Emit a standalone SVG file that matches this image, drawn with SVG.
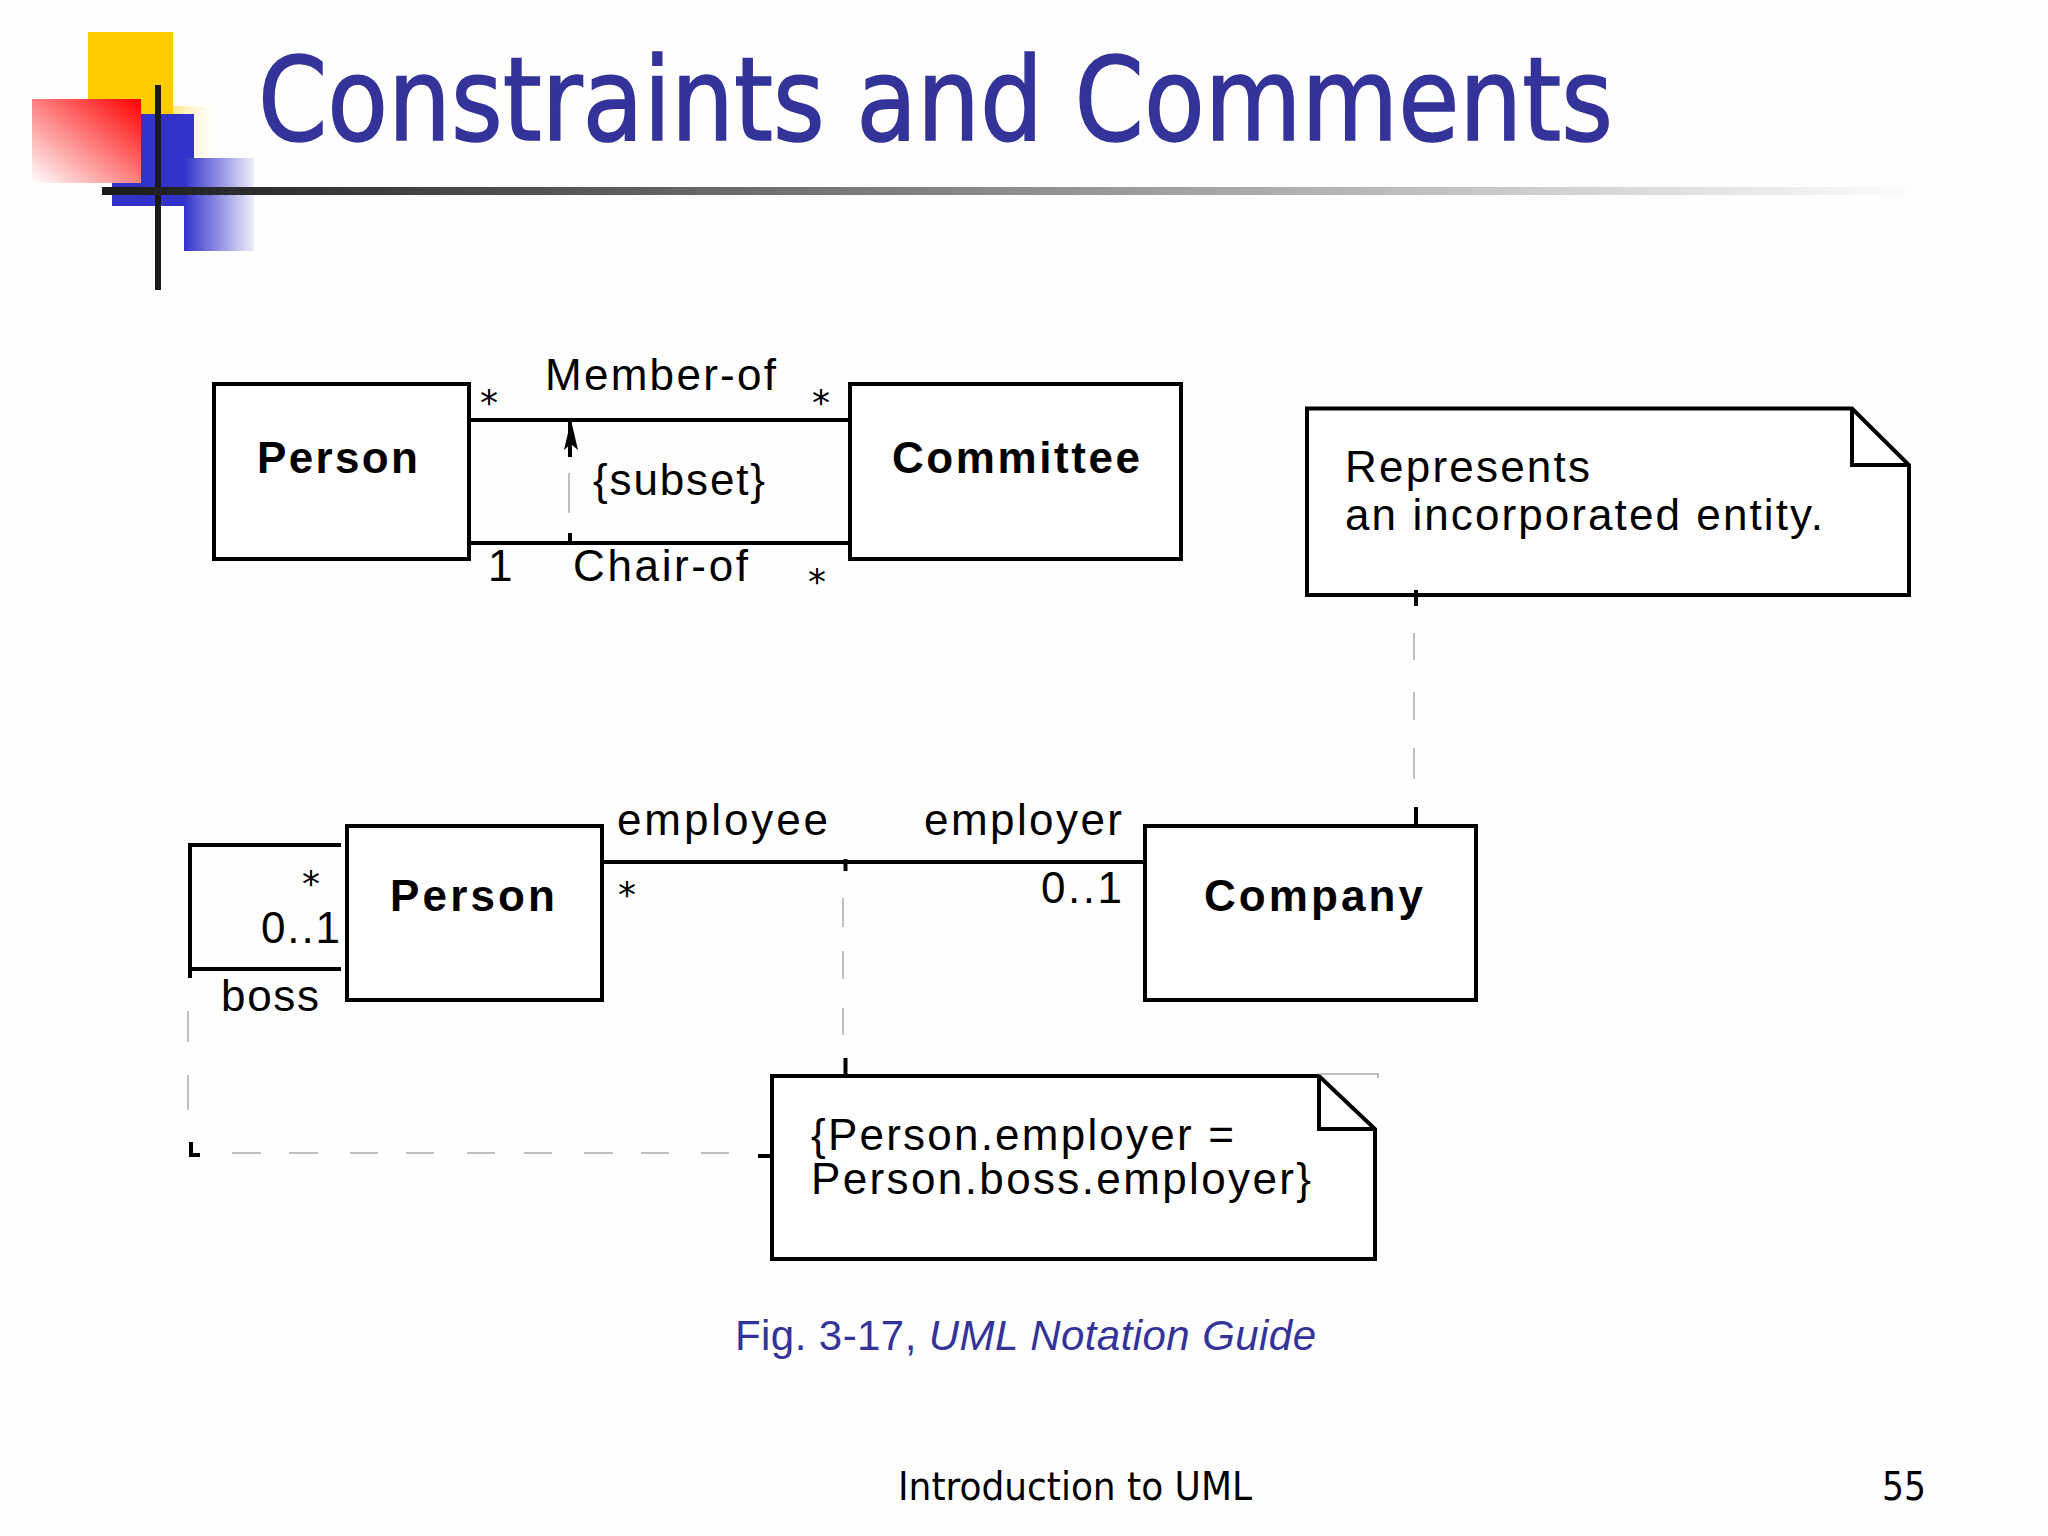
<svg xmlns="http://www.w3.org/2000/svg" width="2048" height="1536" viewBox="0 0 2048 1536">
<style>
.box{fill:#fff;stroke:#000;stroke-width:4}
.thick{fill:none;stroke:#000;stroke-width:4}
.thin{fill:none;stroke:#aaa;stroke-width:1.5}
text{font-family:"Liberation Sans",Arial,sans-serif;fill:#000}
.t{font-size:44px}
.b{font-size:44px;font-weight:bold}
.s{font-family:"DejaVu Sans",sans-serif;font-size:36px}
.tah{font-family:"DejaVu Sans Condensed","DejaVu Sans",sans-serif}
</style>
<defs>
<linearGradient id="gRed" x1="1" y1="0" x2="0" y2="1"><stop offset="0" stop-color="#ff0000"/><stop offset="1" stop-color="#ffffff"/></linearGradient>
<linearGradient id="gBlue" x1="0" y1="0" x2="1" y2="0"><stop offset="0" stop-color="#3333cc"/><stop offset="1" stop-color="#3333cc" stop-opacity="0.08"/></linearGradient>
<linearGradient id="gYel" x1="0" y1="0" x2="1" y2="0"><stop offset="0" stop-color="#ffe680"/><stop offset="1" stop-color="#fff" stop-opacity="0"/></linearGradient>
<linearGradient id="gLine" x1="0" y1="0" x2="1" y2="0"><stop offset="0" stop-color="#1a1a1a"/><stop offset="0.25" stop-color="#555"/><stop offset="1" stop-color="#fff"/></linearGradient>
</defs>
<rect width="2048" height="1536" fill="#fefefe"/>
<g id="logo">
<rect x="173" y="106" width="49" height="52" fill="url(#gYel)"/>
<rect x="88" y="32" width="85" height="82" fill="#ffcc00"/>
<path d="M141 114H194V158H184V206H112V183H141Z" fill="#3333cc"/>
<rect x="184" y="158" width="70" height="93" fill="url(#gBlue)"/>
<rect x="32" y="99" width="109" height="84" fill="url(#gRed)"/>
<rect x="155" y="85" width="6" height="205" fill="#1a1a1a"/>
<rect x="102" y="187" width="1828" height="8" fill="url(#gLine)"/>
</g>
<text id="title" class="tah" x="258" y="140" font-size="115" textLength="1355" lengthAdjust="spacingAndGlyphs" style="fill:#333399;stroke:#333399;stroke-width:1.5">Constraints and Comments</text>
<g id="person1">
<rect class="box" x="214" y="384" width="255" height="175"/>
<text class="b" x="257" y="473" textLength="161">Person</text>
</g>
<g id="committee">
<rect class="box" x="850" y="384" width="331" height="175"/>
<text class="b" x="892" y="473" textLength="248">Committee</text>
</g>
<g id="assoc-labels">
<text class="t" x="545" y="390" textLength="231">Member-of</text>
<text class="t" x="593" y="495" textLength="172">{subset}</text>
<text class="t" x="573" y="581" textLength="175">Chair-of</text>
<text class="t" x="488" y="581">1</text>
<text class="s" x="480" y="415">*</text>
<text class="s" x="812" y="415">*</text>
<text class="s" x="808" y="594">*</text>
</g>
<g id="note1">
<path class="box" d="M1307 408.500H1852L1909 465V595H1307Z"/>
<path class="thick" d="M1852 408.500V465H1909"/>
<text class="t" x="1345" y="482" textLength="245">Represents</text>
<text class="t" x="1345" y="530" textLength="478">an incorporated entity.</text>
</g>
<g id="person2">
<rect class="box" x="347" y="826" width="255" height="174"/>
<text class="b" x="390" y="911" textLength="165">Person</text>
</g>
<g id="company">
<rect class="box" x="1145" y="826" width="331" height="174"/>
<text class="b" x="1204" y="911" textLength="219">Company</text>
</g>
<g id="end-labels">
<text class="t" x="617" y="835" textLength="211">employee</text>
<text class="t" x="924" y="835" textLength="198">employer</text>
<text class="t" x="261" y="943" textLength="79">0..1</text>
<text class="t" x="1041" y="903" textLength="81">0..1</text>
<text class="t" x="221" y="1011" textLength="98">boss</text>
<text class="s" x="302" y="896">*</text>
<text class="s" x="618" y="907">*</text>
</g>
<g id="note2">
<path class="box" d="M772 1076H1319L1375 1129V1259H772Z"/>
<path class="thick" d="M1319 1076V1129H1375"/>
<text class="t" x="811" y="1150" textLength="423">{Person.employer =</text>
<text class="t" x="811" y="1194" textLength="500">Person.boss.employer}</text>
</g>
<g id="connectors">
<path class="thick" d="M469 420H850M469 543H850"/>
<path class="thick" d="M570 420V457M570 533V543"/>
<path class="thin" d="M569 473V513"/>
<path d="M571 420L564 450L571 444L578 450Z" fill="#000"/>
<path class="thick" d="M1416 590V606M1416 807V826"/>
<path class="thin" d="M1414 633V660M1414 692V720M1414 748V779"/>
<path class="thick" d="M602 862H1145"/>
<path class="thick" d="M341 845H190V978M190 969H341"/>
<path class="thin" d="M188 1011V1042M188 1075V1110"/>
<path class="thick" d="M191 1142V1155H200M758 1156H772"/>
<path class="thin" d="M232 1153H261M289 1153H318M350 1153H378M406 1153H434M467 1153H495M524 1153H552M584 1153H613M641 1153H669M701 1153H729"/>
<path class="thick" d="M845.500 859V871M845.500 1058V1076"/>
<path class="thin" d="M843 898V927M843 951V979M843 1008V1035"/>
<path class="thin" d="M1319 1074H1378V1078"/>
</g>
<text id="caption" x="735" y="1350" font-size="42" textLength="581" style="fill:#333399">Fig. 3-17, <tspan font-style="italic">UML Notation Guide</tspan></text>
<text id="footer" class="tah" x="898" y="1500" font-size="39" textLength="354" lengthAdjust="spacingAndGlyphs">Introduction to UML</text>
<text id="page" class="tah" x="1882" y="1500" font-size="39" textLength="44" lengthAdjust="spacingAndGlyphs">55</text>
</svg>
